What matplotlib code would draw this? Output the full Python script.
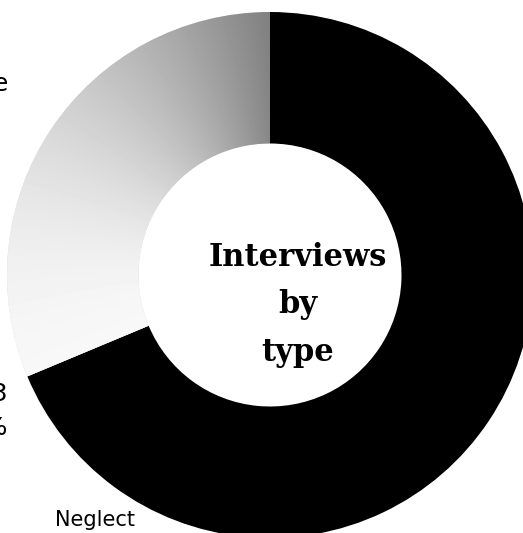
import numpy as np
import matplotlib
matplotlib.use("Agg")
import matplotlib.pyplot as plt

# data
categories = ["Neglect", "Abuse"]
values = [68.7, 31.3]
colors = ["#000000", "#d9d9d9"]
center_title = "Interviews\nby\ntype"

W, H = 523, 533
fig = plt.figure(figsize=(W / 100, H / 100), dpi=100)
ax = fig.add_axes([0, 0, 1, 1])

cx, cy, R = 270, H - 275, 263
wedges, _ = ax.pie(values, colors=colors, startangle=90, counterclock=False,
                   radius=R, center=(cx, cy),
                   wedgeprops=dict(width=R * 0.5, linewidth=0))

# stippled-looking gradient for the light wedge
xs = np.arange(W) + 0.5
ys = np.arange(H) + 0.5
X, Y = np.meshgrid(xs, ys)
theta = np.degrees(np.arctan2(X - cx, Y - cy)) % 360
start = 360 * values[0] / sum(values)
t = np.clip((theta - start) / (360 - start), 0, 1)
rr = np.hypot(X - cx, Y - cy) / R
shade = 0.97 - 0.44 * t ** 2.0 - 0.06 * (rr - 0.5) * t
img = ax.imshow(shade, extent=(0, W, 0, H), origin="lower", cmap="gray",
                vmin=0, vmax=1, zorder=3, interpolation="bilinear")
img.set_clip_path(wedges[1])

ax.set_xlim(0, W)
ax.set_ylim(0, H)
ax.set_aspect("auto")
ax.axis("off")

ax.text(298, H - 305, center_title, ha="center", va="center", fontsize=22,
        fontweight="bold", family="DejaVu Serif", linespacing=1.68, zorder=5)

ax.text(9, H - 84, "Abuse", ha="right", va="center", fontsize=18,
        family="DejaVu Sans")
ax.text(8, H - 411, "113\n31.3%", ha="right", va="center", fontsize=18,
        family="DejaVu Sans", linespacing=1.5)
ax.text(95, H - 520, "Neglect", ha="center", va="center", fontsize=15,
        family="DejaVu Sans")

fig.savefig("out.png", dpi=100)
